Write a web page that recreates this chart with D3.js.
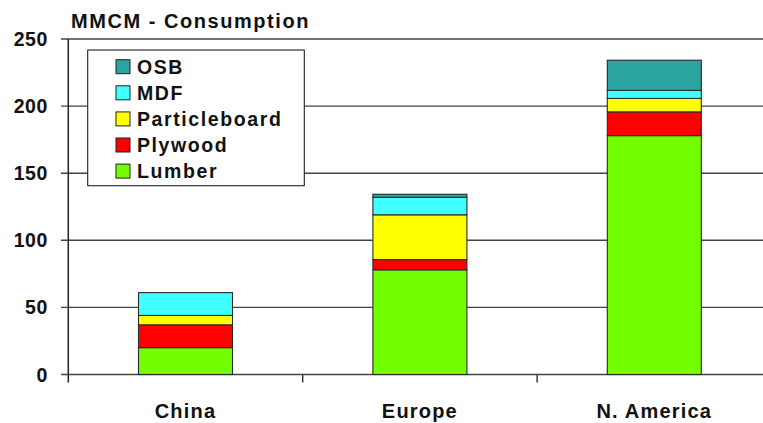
<!DOCTYPE html>
<html><head><meta charset="utf-8">
<script src="https://cdn.jsdelivr.net/npm/d3@7"></script>
<style>
html,body{margin:0;padding:0;background:#fff;}
svg{display:block;}
text{font-family:"Liberation Sans",Arial,sans-serif;font-weight:bold;fill:#111;}
</style></head>
<body>
<svg id="chart" width="763" height="423"></svg>
<script>
const categories = ["China", "Europe", "N. America"];
const seriesNames = ["Lumber", "Plywood", "Particleboard", "MDF", "OSB"];
const lumber = [20, 78, 178];
const plywood = [17, 7.6, 17.7];
const particleboard = [7, 33.4, 10];
const mdf = [17, 13, 6];
const osb = [0, 2.3, 22.5];
const yTicks = [0, 50, 100, 150, 200, 250];
const colors = ["#73ff00", "#ff0000", "#ffff00", "#40ffff", "#2ba3a0"];
const title = "MMCM - Consumption";

const svg = d3.select("#chart");
const x0 = 68.3, x1 = 771.5, yBottom = 374.5, yTop = 39;
const x = d3.scaleBand().domain(categories).range([x0, x1]).paddingInner(0).paddingOuter(0);
const y = d3.scaleLinear().domain([0, 250]).range([yBottom, yTop]);

const rows = categories.map((c, i) => ({
  cat: c, Lumber: lumber[i], Plywood: plywood[i], Particleboard: particleboard[i], MDF: mdf[i], OSB: osb[i]
}));
const stack = d3.stack().keys(seriesNames)(rows);

// gridlines
svg.append("g").selectAll("line").data(yTicks).join("line")
  .attr("x1", 61).attr("x2", 763)
  .attr("y1", d => y(d)).attr("y2", d => y(d))
  .attr("stroke", "#444").attr("stroke-width", 1.4);

// y axis line
svg.append("line").attr("x1", x0).attr("x2", x0).attr("y1", yTop).attr("y2", 382.5)
  .attr("stroke", "#222").attr("stroke-width", 1.5);
// category ticks
svg.append("g").selectAll("line").data(categories.slice(1)).join("line")
  .attr("x1", d => x(d)).attr("x2", d => x(d)).attr("y1", yBottom).attr("y2", 382.5)
  .attr("stroke", "#222").attr("stroke-width", 1.3);

// y tick labels
svg.append("g").selectAll("text").data(yTicks).join("text")
  .attr("x", 48).attr("y", d => y(d)).attr("dy", "0.36em")
  .attr("text-anchor", "end").style("font-size", "19.5px").style("letter-spacing", "0.6px")
  .text(d => d);

// bars
const barW = 94;
const g = svg.append("g");
stack.forEach((layer, li) => {
  g.append("g").selectAll("rect").data(layer).join("rect")
    .filter(d => d[1] - d[0] > 0)
    .attr("x", d => x(d.data.cat) + x.bandwidth() / 2 - barW / 2)
    .attr("width", barW)
    .attr("y", d => y(d[1]))
    .attr("height", d => y(d[0]) - y(d[1]))
    .attr("fill", colors[li])
    .attr("stroke", "#2a2a2a").attr("stroke-width", 1.1);
});

// category labels
svg.append("g").selectAll("text").data(categories).join("text")
  .attr("x", d => x(d) + x.bandwidth() / 2).attr("y", 418)
  .attr("text-anchor", "middle").style("font-size", "20px").style("letter-spacing", "1.2px")
  .text(d => d);

// title
svg.append("text").attr("x", 71).attr("y", 28).style("font-size", "20px").style("letter-spacing", "1.55px")
  .text(title);

// legend
const lg = svg.append("g");
lg.append("rect").attr("x", 87.7).attr("y", 50).attr("width", 216.6).attr("height", 135.7)
  .attr("fill", "#fff").attr("stroke", "#222").attr("stroke-width", 1.1);
const legendOrder = seriesNames.map((n, i) => ({ n, c: colors[i] })).reverse();
const li = lg.selectAll("g.it").data(legendOrder).join("g").attr("class", "it")
  .attr("transform", (d, i) => `translate(0, ${66.7 + i * 26.1})`);
li.append("rect").attr("x", 116).attr("y", -7).attr("width", 14).attr("height", 14)
  .attr("fill", d => d.c).attr("stroke", "#222").attr("stroke-width", 1);
li.append("text").attr("x", 137).attr("y", 0).attr("dy", "0.36em")
  .style("font-size", "19.5px").style("letter-spacing", "1.6px").text(d => d.n);
</script>
</body></html>
